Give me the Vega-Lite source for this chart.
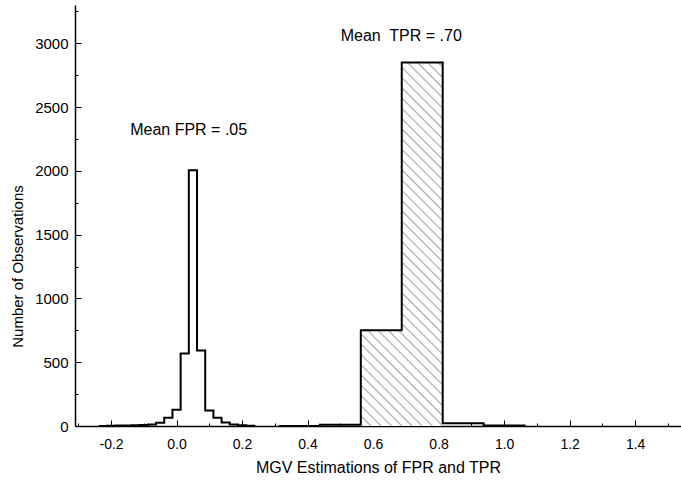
{
  "$schema": "https://vega.github.io/schema/vega-lite/v6.json",
  "width": 606,
  "height": 421,
  "autosize": {"type": "none"},
  "padding": {"left": 75, "top": 5, "right": 0, "bottom": 57},
  "background": "white",
  "config": {
    "view": {"stroke": null},
    "font": "Liberation Sans",
    "axis": {"grid": false, "domainColor": "black", "tickColor": "black", "labelColor": "black", "titleColor": "black", "labelFont": "Liberation Sans", "titleFont": "Liberation Sans", "titleFontWeight": "normal", "labelFlush": false, "labelOverlap": false}
  },
  "datasets": {
    "bins": [
      {"series": "FPR", "start": -0.2375, "end": -0.2125, "count": 0},
      {"series": "FPR", "start": -0.2125, "end": -0.1875, "count": 2},
      {"series": "FPR", "start": -0.1875, "end": -0.1625, "count": 3},
      {"series": "FPR", "start": -0.1625, "end": -0.1375, "count": 4},
      {"series": "FPR", "start": -0.1375, "end": -0.1125, "count": 5},
      {"series": "FPR", "start": -0.1125, "end": -0.0875, "count": 8},
      {"series": "FPR", "start": -0.0875, "end": -0.0625, "count": 12},
      {"series": "FPR", "start": -0.0625, "end": -0.0375, "count": 25},
      {"series": "FPR", "start": -0.0375, "end": -0.0125, "count": 64},
      {"series": "FPR", "start": -0.0125, "end": 0.0125, "count": 127},
      {"series": "FPR", "start": 0.0125, "end": 0.0375, "count": 568},
      {"series": "FPR", "start": 0.0375, "end": 0.0625, "count": 2005},
      {"series": "FPR", "start": 0.0625, "end": 0.0875, "count": 592},
      {"series": "FPR", "start": 0.0875, "end": 0.1125, "count": 122},
      {"series": "FPR", "start": 0.1125, "end": 0.1375, "count": 64},
      {"series": "FPR", "start": 0.1375, "end": 0.1625, "count": 27},
      {"series": "FPR", "start": 0.1625, "end": 0.1875, "count": 12},
      {"series": "FPR", "start": 0.1875, "end": 0.2125, "count": 5},
      {"series": "FPR", "start": 0.2125, "end": 0.2375, "count": 2},
      {"series": "FPR", "start": 0.2375, "end": 0.2625, "count": 0},
      {"series": "TPR", "start": 0.3125, "end": 0.4375, "count": 0},
      {"series": "TPR", "start": 0.4375, "end": 0.5625, "count": 10},
      {"series": "TPR", "start": 0.5625, "end": 0.6875, "count": 750},
      {"series": "TPR", "start": 0.6875, "end": 0.8125, "count": 2850},
      {"series": "TPR", "start": 0.8125, "end": 0.9375, "count": 22},
      {"series": "TPR", "start": 0.9375, "end": 1.0625, "count": 3},
      {"series": "TPR", "start": 1.0625, "end": 1.1875, "count": 0}
    ],
    "notes": [
      {"label": "Mean FPR = .05", "x": 0.037, "y": 2320},
      {"label": "Mean\u00a0 TPR = .70", "x": 0.686, "y": 3060}
    ]
  },
  "layer": [
    {
      "data": {"name": "bins"},
      "transform": [{"filter": "datum.series == 'TPR' && datum.start == 0.5625"}],
      "mark": {"type": "rect", "stroke": null, "fill": {"gradient": "linear", "x1": 0, "y1": 1, "x2": 1.55, "y2": -2.6217, "stops": [
        {"offset": 0, "color": "#aaa"},
        {"offset": 0.004, "color": "#fff"}, {"offset": 0.021, "color": "#fff"}, {"offset": 0.025, "color": "#aaa"},
        {"offset": 0.029, "color": "#fff"}, {"offset": 0.046, "color": "#fff"}, {"offset": 0.05, "color": "#aaa"},
        {"offset": 0.054, "color": "#fff"}, {"offset": 0.071, "color": "#fff"}, {"offset": 0.075, "color": "#aaa"},
        {"offset": 0.079, "color": "#fff"}, {"offset": 0.096, "color": "#fff"}, {"offset": 0.1, "color": "#aaa"},
        {"offset": 0.104, "color": "#fff"}, {"offset": 0.121, "color": "#fff"}, {"offset": 0.125, "color": "#aaa"},
        {"offset": 0.129, "color": "#fff"}, {"offset": 0.146, "color": "#fff"}, {"offset": 0.15, "color": "#aaa"},
        {"offset": 0.154, "color": "#fff"}, {"offset": 0.171, "color": "#fff"}, {"offset": 0.175, "color": "#aaa"},
        {"offset": 0.179, "color": "#fff"}, {"offset": 0.196, "color": "#fff"}, {"offset": 0.2, "color": "#aaa"},
        {"offset": 0.204, "color": "#fff"}, {"offset": 0.221, "color": "#fff"}, {"offset": 0.225, "color": "#aaa"},
        {"offset": 0.229, "color": "#fff"}, {"offset": 0.246, "color": "#fff"}, {"offset": 0.25, "color": "#aaa"},
        {"offset": 0.254, "color": "#fff"}, {"offset": 0.271, "color": "#fff"}, {"offset": 0.275, "color": "#aaa"},
        {"offset": 0.279, "color": "#fff"}, {"offset": 0.296, "color": "#fff"}, {"offset": 0.3, "color": "#aaa"},
        {"offset": 0.304, "color": "#fff"}, {"offset": 0.321, "color": "#fff"}, {"offset": 0.325, "color": "#aaa"},
        {"offset": 0.329, "color": "#fff"}, {"offset": 0.346, "color": "#fff"}, {"offset": 0.35, "color": "#aaa"},
        {"offset": 0.354, "color": "#fff"}, {"offset": 0.371, "color": "#fff"}, {"offset": 0.375, "color": "#aaa"}
      ]}},
      "encoding": {
        "x": {"field": "start", "type": "quantitative", "scale": {"domain": [-0.31, 1.54], "nice": false, "zero": false}, "axis": null},
        "x2": {"field": "end"},
        "y": {"field": "count", "type": "quantitative", "scale": {"domain": [0, 3300], "nice": false}, "axis": null},
        "y2": {"datum": 0}
      }
    },
    {
      "data": {"name": "bins"},
      "transform": [{"filter": "datum.series == 'TPR' && datum.start == 0.6875"}],
      "mark": {"type": "rect", "stroke": null, "fill": {"gradient": "linear", "x1": 0, "y1": 1, "x2": 0.12541, "y2": -0.11353, "stops": [
        {"offset": 0, "color": "#aaa"},
        {"offset": 0.004, "color": "#fff"}, {"offset": 0.021, "color": "#fff"}, {"offset": 0.025, "color": "#aaa"},
        {"offset": 0.029, "color": "#fff"}, {"offset": 0.046, "color": "#fff"}, {"offset": 0.05, "color": "#aaa"},
        {"offset": 0.054, "color": "#fff"}, {"offset": 0.071, "color": "#fff"}, {"offset": 0.075, "color": "#aaa"},
        {"offset": 0.079, "color": "#fff"}, {"offset": 0.096, "color": "#fff"}, {"offset": 0.1, "color": "#aaa"},
        {"offset": 0.104, "color": "#fff"}, {"offset": 0.121, "color": "#fff"}, {"offset": 0.125, "color": "#aaa"},
        {"offset": 0.129, "color": "#fff"}, {"offset": 0.146, "color": "#fff"}, {"offset": 0.15, "color": "#aaa"},
        {"offset": 0.154, "color": "#fff"}, {"offset": 0.171, "color": "#fff"}, {"offset": 0.175, "color": "#aaa"},
        {"offset": 0.179, "color": "#fff"}, {"offset": 0.196, "color": "#fff"}, {"offset": 0.2, "color": "#aaa"},
        {"offset": 0.204, "color": "#fff"}, {"offset": 0.221, "color": "#fff"}, {"offset": 0.225, "color": "#aaa"},
        {"offset": 0.229, "color": "#fff"}, {"offset": 0.246, "color": "#fff"}, {"offset": 0.25, "color": "#aaa"},
        {"offset": 0.254, "color": "#fff"}, {"offset": 0.271, "color": "#fff"}, {"offset": 0.275, "color": "#aaa"},
        {"offset": 0.279, "color": "#fff"}, {"offset": 0.296, "color": "#fff"}, {"offset": 0.3, "color": "#aaa"},
        {"offset": 0.304, "color": "#fff"}, {"offset": 0.321, "color": "#fff"}, {"offset": 0.325, "color": "#aaa"},
        {"offset": 0.329, "color": "#fff"}, {"offset": 0.346, "color": "#fff"}, {"offset": 0.35, "color": "#aaa"},
        {"offset": 0.354, "color": "#fff"}, {"offset": 0.371, "color": "#fff"}, {"offset": 0.375, "color": "#aaa"},
        {"offset": 0.379, "color": "#fff"}, {"offset": 0.396, "color": "#fff"}, {"offset": 0.4, "color": "#aaa"},
        {"offset": 0.404, "color": "#fff"}, {"offset": 0.421, "color": "#fff"}, {"offset": 0.425, "color": "#aaa"},
        {"offset": 0.429, "color": "#fff"}, {"offset": 0.446, "color": "#fff"}, {"offset": 0.45, "color": "#aaa"},
        {"offset": 0.454, "color": "#fff"}, {"offset": 0.471, "color": "#fff"}, {"offset": 0.475, "color": "#aaa"},
        {"offset": 0.479, "color": "#fff"}, {"offset": 0.496, "color": "#fff"}, {"offset": 0.5, "color": "#aaa"},
        {"offset": 0.504, "color": "#fff"}, {"offset": 0.521, "color": "#fff"}, {"offset": 0.525, "color": "#aaa"},
        {"offset": 0.529, "color": "#fff"}, {"offset": 0.546, "color": "#fff"}, {"offset": 0.55, "color": "#aaa"},
        {"offset": 0.554, "color": "#fff"}, {"offset": 0.571, "color": "#fff"}, {"offset": 0.575, "color": "#aaa"},
        {"offset": 0.579, "color": "#fff"}, {"offset": 0.596, "color": "#fff"}, {"offset": 0.6, "color": "#aaa"},
        {"offset": 0.604, "color": "#fff"}, {"offset": 0.621, "color": "#fff"}, {"offset": 0.625, "color": "#aaa"},
        {"offset": 0.629, "color": "#fff"}, {"offset": 0.646, "color": "#fff"}, {"offset": 0.65, "color": "#aaa"},
        {"offset": 0.654, "color": "#fff"}, {"offset": 0.671, "color": "#fff"}, {"offset": 0.675, "color": "#aaa"},
        {"offset": 0.679, "color": "#fff"}, {"offset": 0.696, "color": "#fff"}, {"offset": 0.7, "color": "#aaa"},
        {"offset": 0.704, "color": "#fff"}, {"offset": 0.721, "color": "#fff"}, {"offset": 0.725, "color": "#aaa"},
        {"offset": 0.729, "color": "#fff"}, {"offset": 0.746, "color": "#fff"}, {"offset": 0.75, "color": "#aaa"},
        {"offset": 0.754, "color": "#fff"}, {"offset": 0.771, "color": "#fff"}, {"offset": 0.775, "color": "#aaa"},
        {"offset": 0.779, "color": "#fff"}, {"offset": 0.796, "color": "#fff"}, {"offset": 0.8, "color": "#aaa"},
        {"offset": 0.804, "color": "#fff"}, {"offset": 0.821, "color": "#fff"}, {"offset": 0.825, "color": "#aaa"},
        {"offset": 0.829, "color": "#fff"}, {"offset": 0.846, "color": "#fff"}, {"offset": 0.85, "color": "#aaa"},
        {"offset": 0.854, "color": "#fff"}, {"offset": 0.871, "color": "#fff"}, {"offset": 0.875, "color": "#aaa"},
        {"offset": 0.879, "color": "#fff"}, {"offset": 0.896, "color": "#fff"}, {"offset": 0.9, "color": "#aaa"},
        {"offset": 0.904, "color": "#fff"}, {"offset": 0.921, "color": "#fff"}, {"offset": 0.925, "color": "#aaa"},
        {"offset": 0.929, "color": "#fff"}, {"offset": 0.946, "color": "#fff"}, {"offset": 0.95, "color": "#aaa"},
        {"offset": 0.954, "color": "#fff"}, {"offset": 0.971, "color": "#fff"}, {"offset": 0.975, "color": "#aaa"},
        {"offset": 0.979, "color": "#fff"}, {"offset": 0.996, "color": "#fff"}, {"offset": 1, "color": "#aaa"}
      ]}},
      "encoding": {
        "x": {"field": "start", "type": "quantitative", "scale": {"domain": [-0.31, 1.54], "nice": false, "zero": false}, "axis": null},
        "x2": {"field": "end"},
        "y": {"field": "count", "type": "quantitative", "scale": {"domain": [0, 3300], "nice": false}, "axis": null},
        "y2": {"datum": 0}
      }
    },
    {
      "data": {"name": "bins"},
      "mark": {"type": "line", "interpolate": "step-after", "color": "black", "strokeWidth": 2},
      "encoding": {
        "x": {"field": "start", "type": "quantitative", "scale": {"domain": [-0.31, 1.54], "nice": false, "zero": false},
          "axis": {"values": [-0.2, 0, 0.2, 0.4, 0.6, 0.8, 1, 1.2, 1.4], "labelExpr": "datum.value < 0 ? '-' + format(-datum.value, '.1f') : format(datum.value, '.1f')", "tickSize": -6, "tickWidth": 1, "domainWidth": 1.5, "labelFontSize": 14, "labelPadding": 17, "title": "MGV Estimations of FPR and TPR", "titleFontSize": 16, "titlePadding": 8}},
        "y": {"field": "count", "type": "quantitative", "scale": {"domain": [0, 3300], "nice": false},
          "axis": {"values": [0, 500, 1000, 1500, 2000, 2500, 3000], "format": "d", "tickSize": -6, "tickWidth": 1, "domainWidth": 1.5, "labelFontSize": 15, "labelPadding": 13, "title": "Number of Observations", "titleFontSize": 15, "titleX": -57.5, "titleY": 261, "titleBaseline": "middle"}},
        "detail": {"field": "series"}
      }
    },
    {
      "data": {"name": "notes"},
      "mark": {"type": "text", "fontSize": 16, "font": "Liberation Sans", "align": "center", "baseline": "middle", "color": "black"},
      "encoding": {
        "x": {"field": "x", "type": "quantitative", "scale": {"domain": [-0.31, 1.54], "nice": false, "zero": false},
          "axis": {"orient": "bottom", "values": [-0.3, -0.1, 0.1, 0.3, 0.5, 0.7, 0.9, 1.1, 1.3, 1.5], "labels": false, "domain": false, "tickSize": -3, "tickWidth": 1, "title": null}},
        "y": {"field": "y", "type": "quantitative", "scale": {"domain": [0, 3300], "nice": false},
          "axis": {"orient": "left", "values": [250, 750, 1250, 1750, 2250, 2750, 3250], "labels": false, "domain": false, "tickSize": -3, "tickWidth": 1, "title": null}},
        "text": {"field": "label"}
      }
    }
  ],
  "resolve": {"axis": {"x": "independent", "y": "independent"}}
}
